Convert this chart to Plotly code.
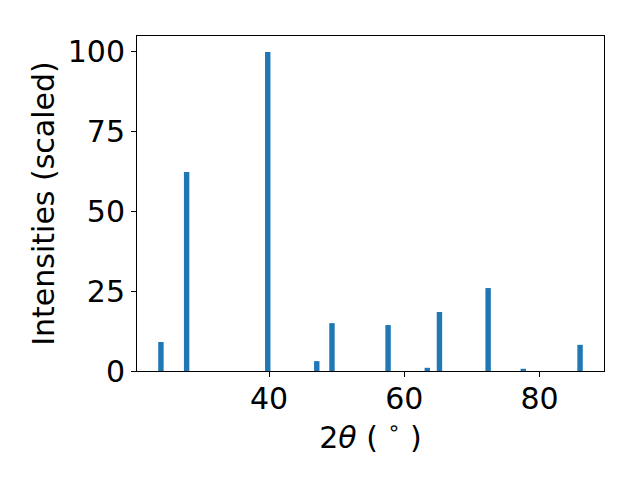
import plotly.graph_objects as go

# peak positions (2theta, degrees) and scaled intensities
two_theta = [24.0, 27.8, 39.8, 47.05, 49.3, 57.6, 63.4, 65.2, 72.4, 77.6, 86.0]
intensity = [9.1, 62.4, 100.0, 3.1, 15.0, 14.4, 1.0, 18.5, 26.0, 0.7, 8.2]

y_ticks = [0, 25, 50, 75, 100]
x_ticks = [40, 60, 80]

# page body has an 8px margin, so margins are shifted to compensate
fig = go.Figure(
    data=go.Bar(
        x=two_theta,
        y=intensity,
        width=0.8,
        marker={"color": "#1f77b4", "line": {"width": 0}},
    ),
    layout={
        "width": 640,
        "height": 480,
        "paper_bgcolor": "white",
        "plot_bgcolor": "white",
        "margin": {"l": 129, "r": 44, "t": 28, "b": 117},
        "font": {"family": "DejaVu Sans", "size": 30, "color": "black"},
        "showlegend": False,
    },
)

fig.update_xaxes(
    range=[20.46, 89.54],
    tickvals=x_ticks,
    tickfont={"size": 30},
    ticks="outside", ticklen=5, tickwidth=1, tickcolor="black",
    ticklabelstandoff=-4,
    showline=True, linecolor="black", linewidth=1, mirror=True,
    showgrid=False, zeroline=False, automargin=False,
    title={"text": "2<i>θ</i> ( <sup>∘</sup> )", "standoff": 0, "font": {"size": 30}},
)
fig.update_yaxes(
    range=[0, 105],
    tickvals=y_ticks,
    tickfont={"size": 30},
    ticks="outside", ticklen=5, tickwidth=1, tickcolor="black",
    showline=True, linecolor="black", linewidth=1, mirror=True,
    showgrid=False, zeroline=False, automargin=False,
    title={"text": "Intensities (scaled)", "standoff": 4, "font": {"size": 30}},
)

fig.write_html("out.html")
